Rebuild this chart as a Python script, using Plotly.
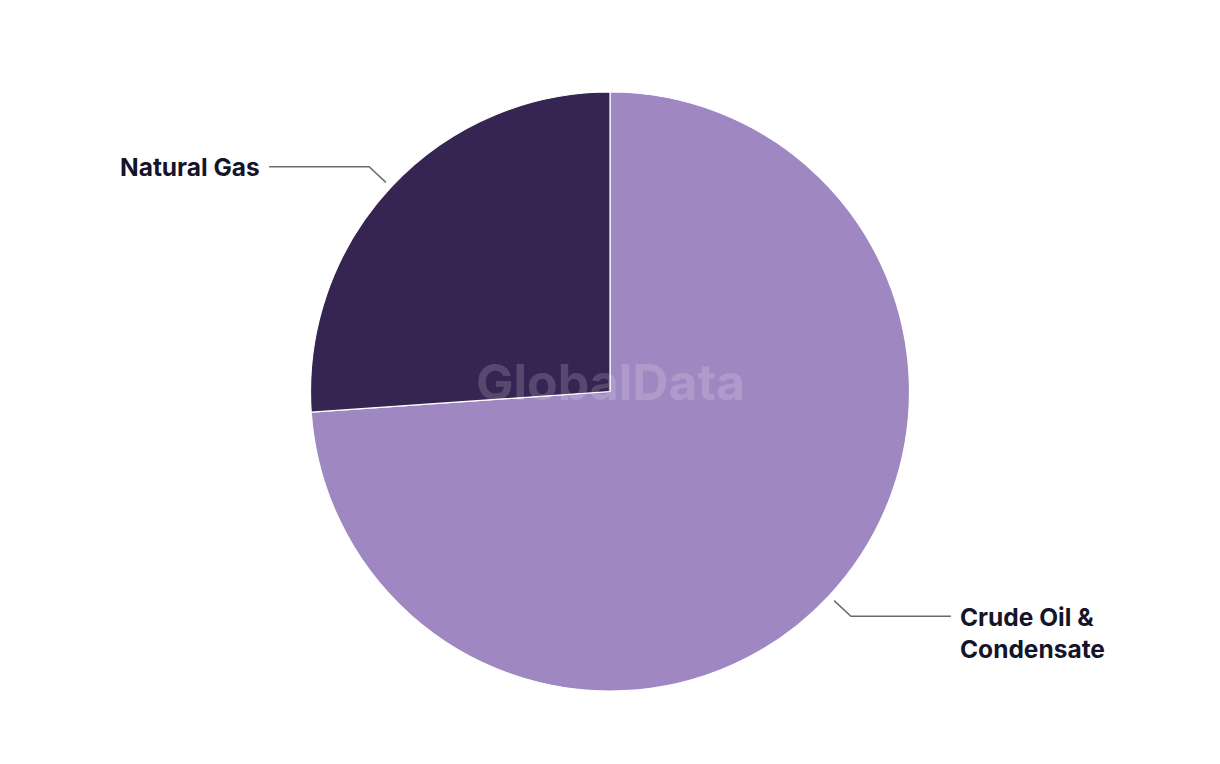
import math
import plotly.graph_objects as go

# ---- data ----
categories = ["Crude Oil & Condensate", "Natural Gas"]
label_texts = ["Crude Oil &<br>Condensate", "Natural Gas"]
values = [73.9, 26.1]
colors = ["#9f87c1", "#362453"]

W, H = 1220, 764
OFF = 8  # page body margin
CX, CY, R = 610 - OFF, 391.5 - OFF, 299.5  # pie geometry in px (figure coords)


def px2paper(x, y):
    return x / W, 1 - y / H


fig = go.Figure()
fig.add_trace(go.Pie(
    labels=categories,
    values=values,
    sort=False,
    direction="clockwise",
    rotation=0,
    marker=dict(colors=colors, line=dict(color="white", width=1.2)),
    textinfo="none",
    hoverinfo="label+percent",
    showlegend=False,
    domain=dict(x=[(CX - R) / W, (CX + R) / W], y=[1 - (CY + R) / H, 1 - (CY - R) / H]),
))

shapes = []
annotations = []
total = sum(values)
cum = 0.0
FONT = dict(family="Inter", size=24.5, color="#14142b")
for name, txt, v in zip(categories, label_texts, values):
    mid = (cum + v / 2) / total * 2 * math.pi  # clockwise from top
    cum += v
    sx, sy = math.sin(mid), -math.cos(mid)  # screen direction (y down)
    x1, y1 = CX + (R + 7) * sx, CY + (R + 7) * sy
    x2, y2 = CX + (R + 30) * sx, CY + (R + 30) * sy
    side = 1 if sx > 0 else -1
    x3 = x2 + side * 100
    path = "M {} {} L {} {} L {} {}".format(
        *px2paper(x1, y1), *px2paper(x2, y2), *px2paper(x3, y2))
    shapes.append(dict(type="path", xref="paper", yref="paper", path=path,
                       line=dict(color="#6b6b6b", width=1.5)))
    ax, ay = px2paper(x3 + side * 7, y2)
    if side > 0:
        annotations.append(dict(x=ax, y=px2paper(0, y2 - 16)[1], xref="paper", yref="paper",
                                text="<b>" + txt + "</b>", showarrow=False,
                                xanchor="left", yanchor="top", align="left", font=FONT))
    else:
        annotations.append(dict(x=ax, y=ay, xref="paper", yref="paper",
                                text="<b>" + txt + "</b>", showarrow=False,
                                xanchor="right", yanchor="middle", align="right", font=FONT))

# watermark
wx, wy = px2paper(CX, 382 - OFF)
annotations.append(dict(x=wx, y=wy, xref="paper", yref="paper", text="<b>GlobalData</b>",
                        showarrow=False, xanchor="center", yanchor="middle",
                        font=dict(family="Inter", size=50, color="rgba(255,255,255,0.17)")))

fig.update_layout(
    width=W, height=H,
    margin=dict(l=0, r=0, t=0, b=0),
    paper_bgcolor="white", plot_bgcolor="white",
    shapes=shapes, annotations=annotations,
)

fig.write_html("out.html")
